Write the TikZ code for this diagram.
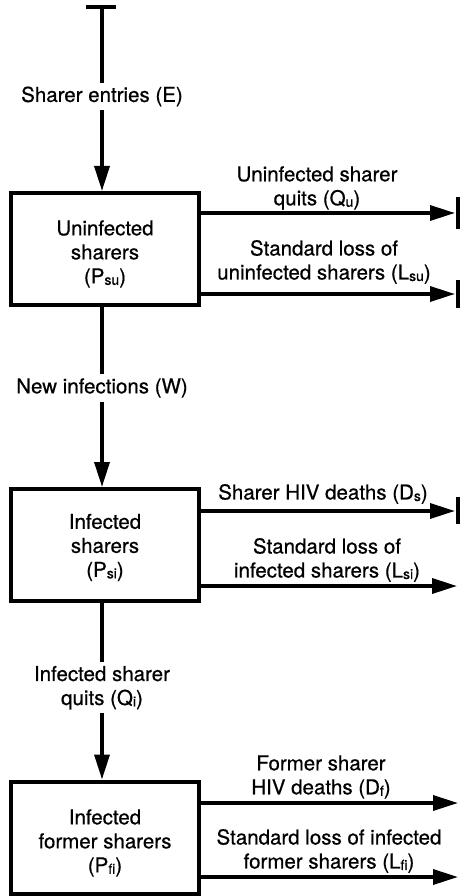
\documentclass[tikz,border=0pt]{standalone}
\usepackage{fontspec}
\setmainfont{TeX Gyre Heros}[FakeBold=0.6]
\usetikzlibrary{arrows.meta}
\newcommand{\lowsub}[1]{\raisebox{-1.5pt}{\fontsize{14}{14}\selectfont #1}}
\begin{document}
\begin{tikzpicture}[x=1pt,y=-1pt,
  every node/.style={font=\fontsize{20.5}{24}\selectfont},
  stock/.style={draw, line width=4pt, minimum width=188pt, minimum height=112pt, inner sep=0pt},
  flow/.style={line width=3.5pt, -{Triangle[length=25pt,width=15pt]}},
  lab/.style={align=center, inner sep=0pt},
  cut/.style={fill=white, align=center, inner xsep=2pt, inner ysep=4pt},
  sinkbar/.style={line width=4pt}]
\useasboundingbox (0,0) rectangle (459,896);
% stocks
\node[stock] (b1) at (105,249) {};
\node[stock] (b2) at (105,545) {};
\node[stock] (b3) at (105,837.5) {};
\node[lab] (t1) at (105,254) {Uninfected\\sharers\\(P\lowsub{su})};
\node[lab] (t2) at (105,547.5) {Infected\\sharers\\(P\lowsub{si})};
\node[lab] (t3) at (105,843) {Infected\\former sharers\\(P\lowsub{fi})};
% source
\coordinate (src) at (102,7);
\coordinate (srcL) at (86,7);
\coordinate (srcR) at (116,7);
\draw[line width=3.5pt] (srcL) -- (srcR);
\draw[flow] (src) -- node[cut, pos=0.486] (lE) {Sharer entries (E)} (b1.north -| src);
\draw[flow] (b1.south -| src) -- node[cut, pos=0.45] (lW) {New infections (W)} (b2.north -| src);
\draw[flow] (b2.south -| src) -- node[cut, pos=0.48] (lQi) {Infected sharer\\quits (Q\lowsub{i})} (b3.north -| src);
% outflows
\coordinate (qu) at (455,213);
\coordinate (lsu) at (455,294);
\coordinate (ds) at (455,511);
\coordinate (lsi) at (457,586);
\coordinate (df) at (458,803);
\coordinate (lfi) at (458,877);
\draw[flow] (b1.east |- qu) -- (qu);
\draw[flow] (b1.east |- lsu) -- (lsu);
\draw[flow] (b2.east |- ds) -- (ds);
\draw[flow] (b2.east |- lsi) -- (lsi);
\draw[flow] (b3.east |- df) -- (df);
\draw[flow] (b3.east |- lfi) -- (lfi);
% sink bars
\coordinate (quT) at (457.5,197);
\coordinate (quB) at (457.5,229);
\coordinate (lsuT) at (457.5,280);
\coordinate (lsuB) at (457.5,308);
\coordinate (dsT) at (457.5,497);
\coordinate (dsB) at (457.5,524);
\draw[sinkbar] (quT) -- (quB);
\draw[sinkbar] (lsuT) -- (lsuB);
\draw[sinkbar] (dsT) -- (dsB);
% flow labels
\node[lab] (tqu) at (317,188) {Uninfected sharer\\quits (Q\lowsub{u})};
\node[lab] (tlsu) at (324,262) {Standard loss of\\uninfected sharers (L\lowsub{su})};
\node[lab] (tds) at (323,494) {Sharer HIV deaths (D\lowsub{s})};
\node[lab] (tlsi) at (327,560) {Standard loss of\\infected sharers (L\lowsub{si})};
\node[lab] (tdf) at (321,777) {Former sharer\\HIV deaths (D\lowsub{f})};
\node[lab] (tlfi) at (329,851) {Standard loss of infected\\former sharers (L\lowsub{fi})};
\end{tikzpicture}
\end{document}
